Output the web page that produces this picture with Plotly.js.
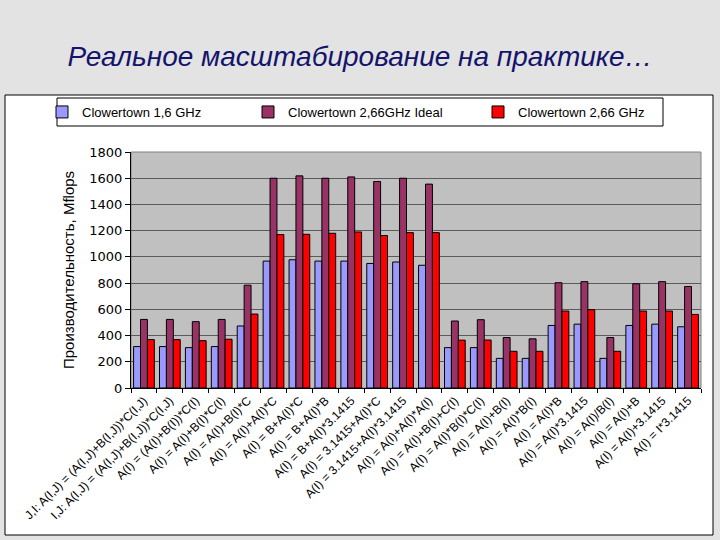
<!DOCTYPE html>
<html>
<head>
<meta charset="utf-8">
<script src="https://cdn.plot.ly/plotly-3.0.1.min.js"></script>
<style>
html,body{margin:0;padding:0;background:#e3e3e3;}
#chart{width:720px;height:540px;}
</style>
</head>
<body>
<div id="chart"></div>
<script>
const categories = [
  "J,I: A(I,J) = (A(I,J)+B(I,J))*C(I,J)",
  "I,J: A(I,J) = (A(I,J)+B(I,J))*C(I,J)",
  "A(I) = (A(I)+B(I))*C(I)",
  "A(I) = A(I)+B(I)*C(I)",
  "A(I) = A(I)+B(I)*C",
  "A(I) = A(I)+A(I)*C",
  "A(I) = B+A(I)*C",
  "A(I) = B+A(I)*B",
  "A(I) = B+A(I)*3.1415",
  "A(I) = 3.1415+A(I)*C",
  "A(I) = 3.1415+A(I)*3.1415",
  "A(I) = A(I)+A(I)*A(I)",
  "A(I) = A(I)+B(I)+C(I)",
  "A(I) = A(I)*B(I)*C(I)",
  "A(I) = A(I)+B(I)",
  "A(I) = A(I)*B(I)",
  "A(I) = A(I)*B",
  "A(I) = A(I)*3.1415",
  "A(I) = A(I)/B(I)",
  "A(I) = A(I)+B",
  "A(I) = A(I)+3.1415",
  "A(I) = I*3.1415"
];
const seriesNames = ["Clowertown 1,6 GHz", "Clowertown 2,66GHz Ideal", "Clowertown 2,66 GHz"];
const clovertown16 = [316, 316, 308, 316, 473, 968, 978, 968, 968, 950, 961, 936, 308, 308, 226, 226, 477, 487, 226, 477, 487, 467];
const clovertown266ideal = [523, 523, 506, 523, 784, 1600, 1618, 1600, 1610, 1575, 1600, 1555, 511, 521, 385, 375, 803, 811, 385, 795, 811, 774];
const clovertown266 = [369, 369, 361, 372, 564, 1170, 1172, 1180, 1190, 1163, 1185, 1185, 365, 366, 280, 280, 587, 597, 280, 587, 587, 561];
const yTitle = "Производительность, Mflops";
const chartTitle = "Реальное масштабирование на практике…";

const colors = ["#9999ff", "#993366", "#ff0000"];
const values = [clovertown16, clovertown266ideal, clovertown266];
const legendIds = ["legend", "legend2", "legend3"];
const traces = values.map((v, i) => ({
  type: "bar",
  name: seriesNames[i],
  x: categories,
  y: v,
  legend: legendIds[i],
  marker: {color: colors[i], line: {color: "#000000", width: 1}},
  hoverinfo: "none"
}));

// plot area pixel geometry
const L = 131, R = 701, T = 152, B = 388;
const W = R - L, H = B - T;
const px = x => (x - L) / W;
const py = y => (B - y) / H;

function legendAt(xPix) {
  return {
    orientation: "h",
    x: px(xPix), y: py(97), xanchor: "left", yanchor: "top",
    bgcolor: "rgba(0,0,0,0)", borderwidth: 0,
    font: {family: "Liberation Sans, Arial, sans-serif", size: 13, color: "#000000"},
    itemclick: false
  };
}

const layout = {
  width: 720, height: 540,
  margin: {l: L, r: 720 - R, t: T, b: 540 - B},
  paper_bgcolor: "#e3e3e3",
  plot_bgcolor: "rgba(0,0,0,0)",
  font: {family: "Liberation Sans, Arial, sans-serif", color: "#000000"},
  title: {
    text: "<i>" + chartTitle + "</i>",
    font: {family: "Liberation Sans, Arial, sans-serif", size: 28, color: "#14146b"},
    x: 0.5, xanchor: "center", xref: "container",
    y: 1 - 56 / 540, yanchor: "middle", yref: "container"
  },
  barmode: "group",
  bargap: 0.2,
  bargroupgap: 0,
  showlegend: true,
  legend: legendAt(42),
  legend2: legendAt(248),
  legend3: legendAt(478),
  xaxis: {
    type: "category",
    showline: true, linecolor: "#000000", linewidth: 1,
    ticks: "outside", ticklen: 4, tickcolor: "#000000", tickson: "boundaries",
    tickangle: -45,
    tickfont: {size: 12, color: "#000000"},
    showgrid: false, automargin: false, fixedrange: true
  },
  yaxis: {
    range: [0, 1800], dtick: 200, tick0: 0,
    showline: true, linecolor: "#000000", linewidth: 1,
    ticks: "outside", ticklen: 5, tickcolor: "#000000",
    tickfont: {family: "DejaVu Sans, sans-serif", size: 13, color: "#000000"},
    showgrid: true, gridcolor: "#5a5a5a", gridwidth: 1,
    zeroline: false,
    title: {text: yTitle, font: {size: 15, color: "#000000"}, standoff: 11},
    automargin: false, fixedrange: true
  },
  shapes: [
    {type: "rect", xref: "paper", yref: "paper", layer: "below",
     x0: px(5), x1: px(713), y0: py(535), y1: py(95),
     fillcolor: "#ffffff", line: {color: "#000000", width: 1}},
    {type: "rect", xref: "paper", yref: "paper", layer: "below",
     x0: 0, x1: 1, y0: 0, y1: 1,
     fillcolor: "#c0c0c0", line: {color: "#808080", width: 1}},
    {type: "rect", xref: "paper", yref: "paper", layer: "below",
     x0: px(57), x1: px(663), y0: py(126), y1: py(98),
     fillcolor: "#ffffff", line: {color: "#000000", width: 1}}
  ]
};

Plotly.newPlot("chart", traces, layout, {staticPlot: true, displayModeBar: false});
</script>
</body>
</html>
